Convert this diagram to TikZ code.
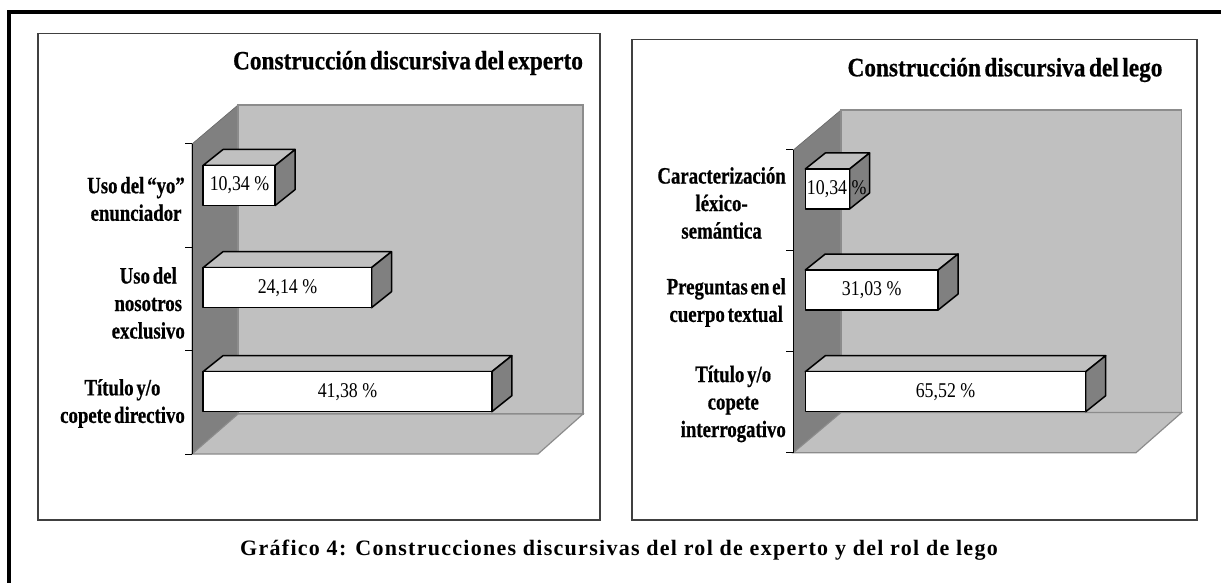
\documentclass[tikz,border=0pt]{standalone}
\usepackage{fontspec}
\setmainfont{Liberation Serif}
\newfontfamily\titlefont[FakeStretch=0.88, WordSpace=0.6, FakeBold=0.6]{Liberation Serif}
\newfontfamily\labelfont[FakeStretch=0.8, WordSpace=0.6, FakeBold=0.6]{Liberation Serif}
\newfontfamily\valuefont[FakeStretch=0.85]{Liberation Serif}
\newfontfamily\capfont[LetterSpace=5.8]{Liberation Serif}
\usetikzlibrary{calc}
\definecolor{wallgray}{HTML}{808080}
\definecolor{backgray}{HTML}{C0C0C0}
\tikzset{
  chartbox/.style={draw=black!75, line width=1.5pt},
  sidewall/.style={fill=wallgray, draw=black!60, line width=0.6pt},
  backwall/.style={fill=backgray, draw=black!45, line width=1.2pt},
  axisline/.style={draw=black, line width=1pt},
  barfront/.style={fill=white, draw=black, line width=1.5pt, line join=round},
  bartop/.style={fill=backgray, draw=black, line width=1.5pt, line join=round},
  barside/.style={fill=wallgray, draw=black, line width=1.5pt, line join=round},
  charttitle/.style={inner sep=0pt, font=\titlefont\bfseries\fontsize{26.5}{30}\selectfont},
  catlabel/.style={inner sep=0pt, anchor=east, align=center, font=\labelfont\bfseries\fontsize{23.5}{27.5}\selectfont},
  vallabel/.style={inner sep=0pt, font=\valuefont\fontsize{21}{24}\selectfont},
  captext/.style={inner sep=0pt, font=\capfont\bfseries\fontsize{22}{25}\selectfont}
}

\begin{document}
\begin{tikzpicture}[x=1pt, y=-1pt]
	\useasboundingbox (0,0) rectangle (1221,583);

	% outer frame
	\draw[line width=4pt] (1221,12.5) -- (9.3,12.5) -- (9.3,583);

	% expert chart
	\draw[chartbox] (38,33.3) rectangle (600,520);
	\node[charttitle] (te) at (408,63) {Construcción discursiva del experto};

	\draw[sidewall] (192,454) -- (192,144) -- (238,105) -- (238,414) -- cycle;
	\draw[backwall] (238,105) rectangle (583,414);
	\draw[backwall] (192,454) -- (238,414) -- (583,414) -- (538,454) -- cycle;
	\draw[axisline] (192,144) -- (192,454);
	\foreach \ty in {144,247.3,350.7,454}
		\draw[axisline] (185,\ty) -- (192,\ty);

	\foreach \t/\w/\lx/\v [count=\i] in {165.5/72.2/239.5/{10,34 \%}, 267.7/168.5/287.5/{24,14 \%}, 371.7/288.8/347.5/{41,38 \%}} {
		\draw[bartop] (203,\t) -- (223,\t-16) -- (223+\w,\t-16) -- (203+\w,\t) -- cycle;
		\draw[barside] (203+\w,\t) -- (223+\w,\t-16) -- (223+\w,\t+24) -- (203+\w,\t+40) -- cycle;
		\draw[barfront] (203,\t) rectangle (203+\w,\t+40);
		\node[vallabel] (ve\i) at (\lx,\t+20) {\v};
	}

	\node[catlabel] (ce1) at (185,199) {Uso del “yo”\\enunciador};
	\node[catlabel] (ce2) at (185,303) {Uso del\\nosotros\\exclusivo};
	\node[catlabel] (ce3) at (185,403.5) {Título y/o\\copete directivo};

	% lay chart
	\draw[chartbox] (632,39.3) rectangle (1197,520);
	\node[charttitle] (tl) at (1005,70) {Construcción discursiva del lego};

	\draw[sidewall] (793.3,452.7) -- (793.3,150) -- (841,110) -- (841,412.5) -- cycle;
	\draw[backwall] (841,110) rectangle (1181.7,412.5);
	\draw[backwall] (793.3,452.7) -- (841,412.5) -- (1181.7,412.5) -- (1136,452.7) -- cycle;
	\draw[axisline] (793.3,150) -- (793.3,452.7);
	\foreach \ty in {150,250.9,351.8,452.7}
		\draw[axisline] (786.3,\ty) -- (793.3,\ty);

	\foreach \t/\w/\lx/\v [count=\i] in {169/44.3/836.7/{10,34 \%}, 270/132.8/871.7/{31,03 \%}, 371.7/280.4/945.5/{65,52 \%}} {
		\draw[bartop] (805.3,\t) -- (825.3,\t-16) -- (825.3+\w,\t-16) -- (805.3+\w,\t) -- cycle;
		\draw[barside] (805.3+\w,\t) -- (825.3+\w,\t-16) -- (825.3+\w,\t+24) -- (805.3+\w,\t+40) -- cycle;
		\draw[barfront] (805.3,\t) rectangle (805.3+\w,\t+40);
		\node[vallabel] (vl\i) at (\lx,\t+20) {\v};
	}

	\node[catlabel] (cl1) at (786,203) {Caracterización\\léxico-\\semántica};
	\node[catlabel] (cl2) at (786,302.5) {Preguntas en el\\cuerpo textual};
	\node[catlabel] (cl3) at (786,404) {Título y/o\\copete\\interrogativo};

	% caption
	\node[captext] (cap) at (619,550) {Gráfico 4: Construcciones discursivas del rol de experto y del rol de lego};

\end{tikzpicture}
\end{document}
